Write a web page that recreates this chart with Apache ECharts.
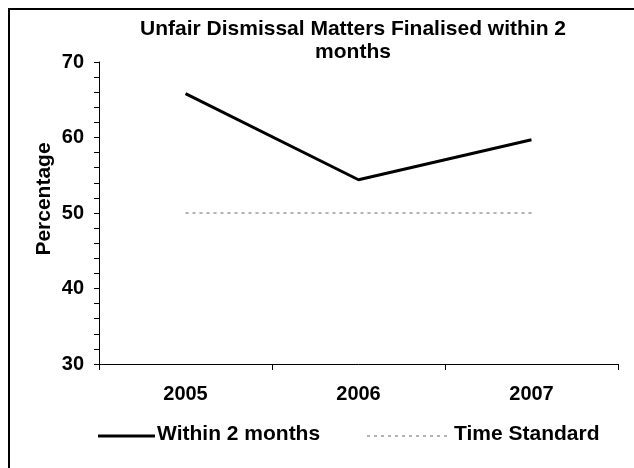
<!DOCTYPE html>
<html><head><meta charset="utf-8">
<script src="https://cdn.jsdelivr.net/npm/echarts@6/dist/echarts.min.js"></script>
<style>html,body{margin:0;padding:0;background:#fff}#c{width:634px;height:468px}</style>
</head><body><div id="c"></div>
<script>
const categories = ['2005', '2006', '2007'];
const within2Months = [65.8, 54.4, 59.7];
const timeStandard = [50, 50, 50];
const yTicks = [30, 40, 50, 60, 70];
const seriesNames = ['Within 2 months', 'Time Standard'];
const yAxisName = 'Percentage';

const F = '"Liberation Sans", Arial, sans-serif';
const txt = { fontFamily: F, fontWeight: 'bold', fontSize: 21, fill: '#000' };
const chart = echarts.init(document.getElementById('c'));
chart.setOption({
  animation: false,
  backgroundColor: '#fff',
  graphic: [{
    type: 'rect', shape: { x: 9, y: 9, width: 700, height: 600 },
    style: { fill: 'none', stroke: '#000', lineWidth: 2 }, silent: true
  }, {
    type: 'text', x: 44, y: 199, rotation: Math.PI / 2,
    style: { text: yAxisName, fontFamily: F, fontWeight: 'bold', fontSize: 21, fill: '#000', align: 'center', verticalAlign: 'middle' },
    silent: true
  }, {
    type: 'line', shape: { x1: 98, y1: 436, x2: 155, y2: 436 },
    style: { stroke: '#000', lineWidth: 3 }, silent: true
  }, {
    type: 'text', left: 157, top: 424,
    style: Object.assign({ text: seriesNames[0] }, txt), silent: true
  }, {
    type: 'line', shape: { x1: 367, y1: 436, x2: 451, y2: 436 },
    style: { stroke: '#999', lineWidth: 1.5, lineDash: [3, 4] }, silent: true
  }, {
    type: 'text', left: 454, top: 424,
    style: Object.assign({ text: seriesNames[1] }, txt), silent: true
  }],
  title: {
    text: 'Unfair Dismissal Matters Finalised within 2\nmonths',
    left: 348, top: 13, textAlign: 'center',
    textStyle: { fontFamily: F, fontWeight: 'bold', fontSize: 21, lineHeight: 23, color: '#000' }
  },
  grid: { left: 99, right: 16, top: 62, bottom: 104, containLabel: false },
  xAxis: {
    type: 'category', data: categories, boundaryGap: true,
    axisLine: { lineStyle: { color: '#000', width: 1 } },
    axisTick: { show: true, length: 6, lineStyle: { color: '#000' } },
    axisLabel: { fontFamily: F, fontWeight: 'bold', fontSize: 20, color: '#000', margin: 20 }
  },
  yAxis: {
    type: 'value', min: yTicks[0], max: yTicks[yTicks.length - 1], interval: 10,
    axisLine: { show: true, lineStyle: { color: '#000', width: 1 } },
    axisTick: { show: true, length: 5, lineStyle: { color: '#000' } },
    minorTick: { show: true, splitNumber: 5, length: 5, lineStyle: { color: '#000' } },
    splitLine: { show: false },
    axisLabel: { fontFamily: F, fontWeight: 'bold', fontSize: 20, color: '#000', margin: 15 }
  },
  series: [{
    name: seriesNames[0], type: 'line', data: within2Months, symbol: 'none',
    lineStyle: { color: '#000', width: 3 }, itemStyle: { color: '#000' }
  }, {
    name: seriesNames[1], type: 'line', data: timeStandard, symbol: 'none',
    lineStyle: { color: '#999', width: 1.5, type: [3, 4] }, itemStyle: { color: '#999' }
  }]
});
</script></body></html>
